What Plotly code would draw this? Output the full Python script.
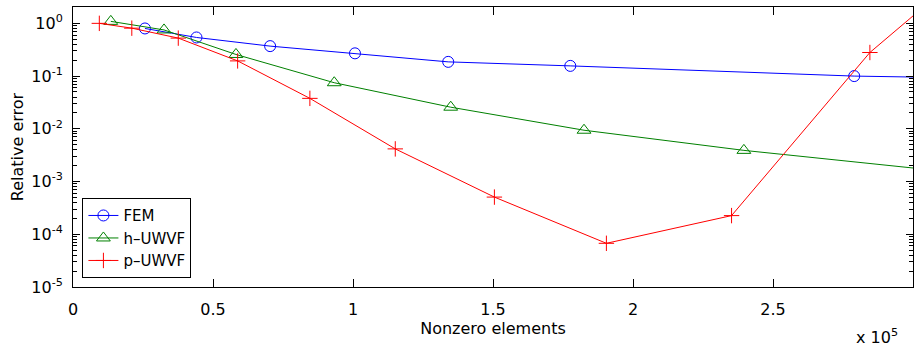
import plotly.graph_objects as go

# ---- data (x = number of nonzero elements) ----
fem_x = [25700, 44100, 70400, 100700, 134000, 177600, 279000, 360000]
fem_y = [0.80, 0.54, 0.37, 0.27, 0.186, 0.156, 0.100, 0.085]

h_x = [13500, 32500, 58200, 93300, 134900, 182500, 239600, 320000]
h_y = [1.09, 0.75, 0.257, 0.0748, 0.0257, 0.0094, 0.0039, 0.0014]

p_x = [9400, 21000, 37600, 58800, 84600, 115100, 150500, 190500, 235200, 284600, 310000]
p_y = [1.0, 0.81, 0.525, 0.194, 0.0378, 0.00416, 5.07e-4, 6.74e-5, 2.26e-4, 0.28, 3.9]

x_tickvals = [0, 50000, 100000, 150000, 200000, 250000, 300000]
x_ticktext = ["0", "0.5", "1", "1.5", "2", "2.5", "3"]
y_tickvals = [1e-5, 1e-4, 1e-3, 1e-2, 1e-1, 1]
y_ticktext = ["10<sup>-5</sup>", "10<sup>-4</sup>", "10<sup>-3</sup>",
              "10<sup>-2</sup>", "10<sup>-1</sup>", "10<sup>0</sup>"]

FONT = "DejaVu Sans, Liberation Sans, Arial, sans-serif"

fig = go.Figure()
fig.add_trace(go.Scatter(x=fem_x, y=fem_y, name="FEM", mode="lines+markers",
                         line=dict(color="#0000FF", width=1),
                         marker=dict(symbol="circle-open", size=11,
                                     color="#0000FF", line=dict(width=1))))
fig.add_trace(go.Scatter(x=h_x, y=h_y, name="h\u2013UWVF", mode="lines+markers",
                         line=dict(color="#008000", width=1),
                         marker=dict(symbol="triangle-up-open", size=12,
                                     color="#008000", line=dict(width=1))))
fig.add_trace(go.Scatter(x=p_x, y=p_y, name="p\u2013UWVF", mode="lines+markers",
                         line=dict(color="#FF0000", width=1),
                         marker=dict(symbol="cross-thin-open", size=11,
                                     color="#FF0000", line=dict(width=1, color="#FF0000"))))

fig.update_layout(
    width=916, height=347,
    margin=dict(l=73, r=3, t=7, b=60),
    paper_bgcolor="white", plot_bgcolor="white",
    font=dict(family=FONT, size=16, color="black"),
    showlegend=True,
    legend=dict(x=0.0112, y=0.0314, xanchor="left", yanchor="bottom",
                bordercolor="black", borderwidth=1, bgcolor="white",
                font=dict(family=FONT, size=15, color="black"),
                tracegroupgap=0, itemwidth=30),
)
fig.update_xaxes(
    range=[0, 300000], tickvals=x_tickvals, ticktext=x_ticktext,
    showline=True, linecolor="black", linewidth=1, mirror="allticks",
    ticks="inside", ticklen=8, tickcolor="black", showgrid=False, zeroline=False,
    ticklabelstandoff=8,
    title=dict(text="Nonzero elements", standoff=4, font=dict(size=16)),
)
fig.update_yaxes(
    type="log", range=[-5, 0.31], tickvals=y_tickvals, ticktext=y_ticktext,
    showline=True, linecolor="black", linewidth=1, mirror="allticks",
    ticks="inside", ticklen=7, tickcolor="black", showgrid=False, zeroline=False,
    ticklabelstandoff=6,
    minor=dict(ticks="inside", ticklen=4, tickcolor="black", dtick="D1", showgrid=False),
    title=dict(text="Relative error", standoff=3, font=dict(size=16)),
)
fig.add_annotation(text="x 10<sup>5</sup>", xref="paper", yref="paper",
                   x=0.9845, y=-0.222, xanchor="right", yanchor="bottom",
                   showarrow=False, font=dict(family=FONT, size=16, color="black"))

fig.write_html("out.html")
